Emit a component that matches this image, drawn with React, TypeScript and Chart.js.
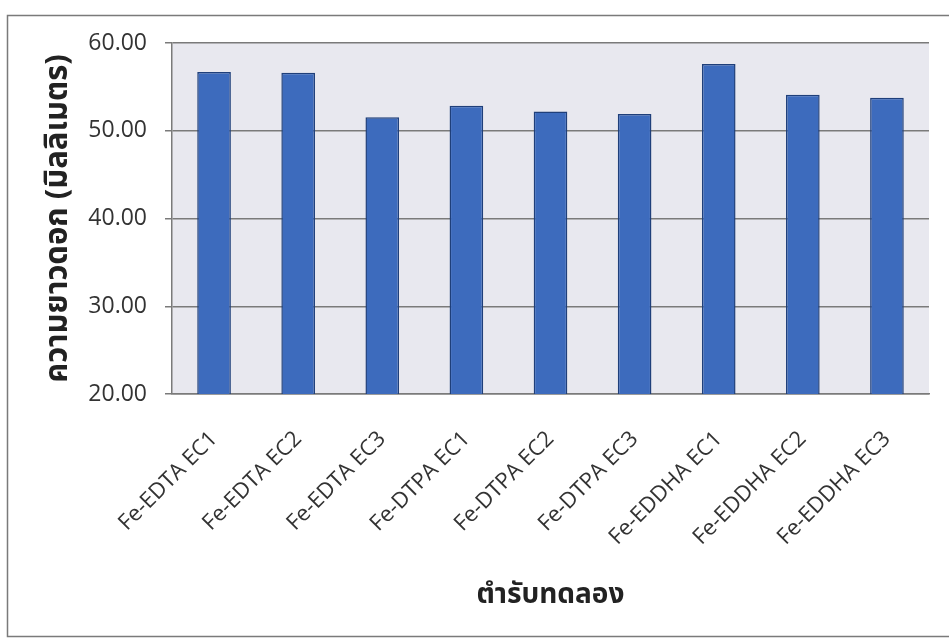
import React, { useEffect, useRef } from "react";
import { Chart, registerables } from "chart.js";

Chart.register(...registerables);

// Treatments (Fe chelate source × EC level)
const treatments = [
  "Fe-EDTA EC1",
  "Fe-EDTA EC2",
  "Fe-EDTA EC3",
  "Fe-DTPA EC1",
  "Fe-DTPA EC2",
  "Fe-DTPA EC3",
  "Fe-EDDHA EC1",
  "Fe-EDDHA EC2",
  "Fe-EDDHA EC3",
];

// Flower length (mm)
const flowerLength = [56.7, 56.6, 51.55, 52.85, 52.2, 51.9, 57.6, 54.1, 53.75];

const yMin = 20;
const yMax = 60;
const yStep = 10;

const yTitle = "ความยาวดอก (มิลลิเมตร)";
const xTitle = "ตำรับทดลอง";

const thaiFont = "'Noto Sans Thai', 'Noto Sans Thai UI', Tahoma, 'Noto Sans', sans-serif";
const latinFont = "'Open Sans', 'Noto Sans', sans-serif";

// Frame around the whole figure and the grey plot backdrop
const backdrop = {
  id: "backdrop",
  beforeDraw(chart: any) {
    const { ctx, chartArea } = chart;
    ctx.save();
    ctx.fillStyle = "#ffffff";
    ctx.fillRect(0, 0, chart.width, chart.height);
    ctx.strokeStyle = "#7a7a7a";
    ctx.lineWidth = 1.5;
    ctx.strokeRect(7.5, 15.5, 1000, 621);
    ctx.fillStyle = "#e8e8ef";
    ctx.fillRect(chartArea.left, chartArea.top, chartArea.right - chartArea.left, chartArea.bottom - chartArea.top);
    ctx.restore();
  },
};

export default function App() {
  const canvasRef = useRef<HTMLCanvasElement | null>(null);

  useEffect(() => {
    if (!canvasRef.current) return;
    const chart = new Chart(canvasRef.current, {
      type: "bar",
      data: {
        labels: treatments,
        datasets: [
          {
            data: flowerLength,
            backgroundColor: "#3d6bbd",
            borderColor: "#1f3f7a",
            borderWidth: 1.5,
            barPercentage: 0.4,
            categoryPercentage: 1,
          },
        ],
      },
      options: {
        animation: false,
        responsive: false,
        maintainAspectRatio: false,
        layout: { autoPadding: false, padding: { top: 43, right: 20, left: 0, bottom: 0 } },
        plugins: {
          legend: { display: false },
          tooltip: { enabled: false },
        },
        scales: {
          x: {
            grid: { display: false, drawTicks: false },
            border: { display: true, color: "#7a7a7a", width: 1.5 },
            ticks: {
              minRotation: 45,
              maxRotation: 45,
              padding: 32,
              color: "#333333",
              font: { family: latinFont, size: 22 },
            },
            title: {
              display: true,
              text: xTitle,
              color: "#222222",
              font: { family: thaiFont, size: 28, weight: "bold" },
              padding: { top: 0, bottom: 24 },
            },
            afterFit(scale: any) {
              scale.height = 244;
            },
          },
          y: {
            min: yMin,
            max: yMax,
            grid: { color: "#7a7a7a", lineWidth: 1.5, tickLength: 7 },
            border: { display: true, color: "#7a7a7a", width: 1.5 },
            ticks: {
              stepSize: yStep,
              padding: 18,
              color: "#333333",
              font: { family: latinFont, size: 23 },
              callback: (v: any) => Number(v).toFixed(2),
            },
            title: {
              display: true,
              text: yTitle,
              color: "#222222",
              font: { family: thaiFont, size: 31, weight: "bold" },
              padding: { top: 42, bottom: 0 },
            },
            afterFit(scale: any) {
              scale.width = 172;
            },
          },
        },
      },
      plugins: [backdrop],
    });
    return () => chart.destroy();
  }, []);

  return (
    <div style={{ position: "absolute", left: 0, top: 0, width: 949, height: 638, background: "#fff" }}>
      <canvas ref={canvasRef} width={949} height={638} style={{ display: "block" }} />
    </div>
  );
}
